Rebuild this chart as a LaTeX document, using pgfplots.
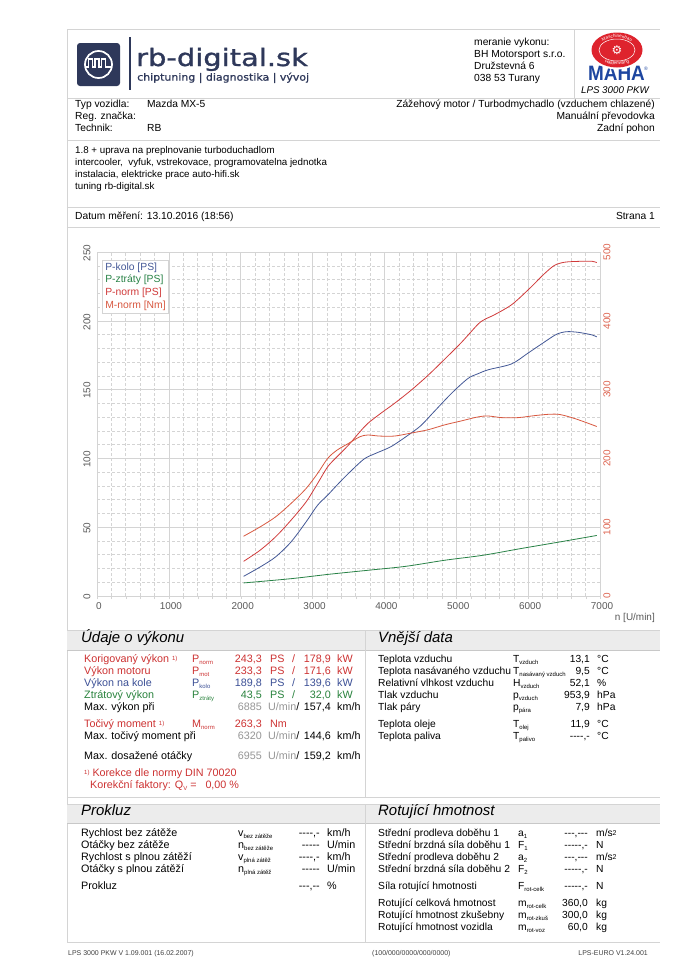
\documentclass[border=0pt]{standalone}
\usepackage{fontspec}
\setmainfont{Liberation Sans}
\newfontfamily\logofont{DejaVu Sans}
\newfontfamily\logofontb[FakeBold=1]{DejaVu Sans}
\usepackage{pgfplots}
\usepackage{pgfplotstable}
\pgfplotsset{compat=1.18}
\usetikzlibrary{decorations.text}

\definecolor{pkolo}{RGB}{68,88,150}
\definecolor{pztr}{RGB}{40,130,70}
\definecolor{pnorm}{RGB}{208,58,58}
\definecolor{mnorm}{RGB}{216,88,64}
\definecolor{rlab}{RGB}{222,100,80}
\definecolor{gridc}{RGB}{212,212,212}
\definecolor{frame}{RGB}{212,212,212}
\definecolor{band}{RGB}{236,236,236}
\definecolor{bandline}{RGB}{200,200,200}
\definecolor{navy}{RGB}{46,56,90}
\definecolor{txtred}{RGB}{205,50,50}
\definecolor{txtblue}{RGB}{60,80,150}
\definecolor{txtgreen}{RGB}{40,130,60}
\definecolor{txtgray}{RGB}{150,150,150}
\definecolor{tickgray}{RGB}{90,90,90}
\definecolor{mahared}{RGB}{222,35,45}
\definecolor{mahablue}{RGB}{30,70,160}

\newcommand\tf{\fontsize{10.8}{12}\selectfont}
\newcommand\rf{\fontsize{10.3}{12}\selectfont}
\newcommand\vf{\fontsize{10.3}{12}\selectfont}
\newcommand\sub[1]{\raisebox{-2.3bp}{\fontsize{6}{6}\selectfont #1}}
\newcommand\one{\raisebox{2bp}{\fontsize{6}{6}\selectfont 1)}}
\newcommand\cell[4][]{\node[anchor=mid west,#1] at (#2,#3) {#4};}
\newcommand\cellr[4][]{\node[anchor=mid east,#1] at (#2,#3) {#4};}

% P-kolo [PS]
\pgfplotstableread{
rpm P
2040 14.3
2270 21.1
2485 28.4
2700 39.3
2910 53.9
3070 66.0
3210 73.3
3340 80.6
3500 89.1
3715 99.5
3875 103.6
4090 108.5
4300 115.8
4500 123.5
4670 132.8
4930 147.1
5160 158.0
5300 161.5
5450 164.5
5770 168.7
6000 176.6
6230 184.7
6395 190.2
6535 192.1
6700 191.6
6885 189.8
6955 188.3
}\tabkolo

% P-ztraty [PS]
\pgfplotstableread{
rpm P
2040 9.5
2700 12.6
3230 15.8
3770 18.7
4300 21.6
4840 26.0
5370 29.6
5900 34.5
6440 39.3
6955 44.0
}\tabztr

% P-norm [PS]
\pgfplotstableread{
rpm P
2040 25.2
2270 33.3
2485 43.0
2700 55.1
2910 68.4
3070 81.8
3210 93.9
3340 101.2
3500 109.7
3660 119.4
3770 125.5
3950 132.8
4140 140.0
4370 149.5
4605 160.3
4840 172.2
5070 184.2
5300 197.4
5395 201.0
5535 204.5
5770 211.7
6000 222.5
6230 234.4
6370 240.4
6510 242.6
6700 243.2
6885 243.3
6955 242.3
}\tabnorm

% M-norm [Nm]
\pgfplotstableread{
rpm M
2040 86.9
2270 100.5
2485 115.0
2700 134.5
2910 156.3
3070 178.2
3210 200.0
3340 212.0
3500 221.8
3660 231.6
3770 234.0
3930 232.5
4140 232.5
4370 236.8
4605 241.6
4840 248.8
5070 254.5
5300 260.3
5440 261.7
5630 259.3
5860 259.3
6090 262.2
6280 264.1
6420 264.1
6560 260.8
6745 254.5
6955 246.4
}\tabmom

\begin{document}
\begin{tikzpicture}[x=1bp,y=-1bp]
\path[use as bounding box, fill=white] (0,0) rectangle (680,962);

% frame lines
\begin{scope}[frame, line width=0.6bp]
\draw (67,29) -- (660,29);
\draw (67,98) -- (660,98);
\draw (67,140) -- (660,140);
\draw (67,207) -- (660,207);
\draw (67,227) -- (660,227);
\draw (574,29) -- (574,98);
\draw (67,29) -- (67,942);
\end{scope}
% section bands
\fill[band] (67,630) rectangle (660,650);
\fill[band] (67,804) rectangle (660,823);
\draw[frame, line width=0.6bp] (67,630) -- (660,630) (67,797) -- (660,797) (67,804) -- (660,804) (67,942) -- (660,942);
\draw[bandline, line width=0.6bp] (67,650) -- (660,650) (67,823) -- (660,823);
\draw[frame, line width=0.6bp] (365,630) -- (365,797) (365,804) -- (365,942);

% rb-digital logo
\fill[navy, rounded corners=3bp] (77,43) rectangle (120,86);
\draw[white, line width=1.7bp] (98.5,64.5) circle (13.5);
\draw[white, line width=1.4bp] (86,67) -- (88.5,67) -- (88.5,59) -- (92.5,59) -- (92.5,67) -- (95,67) -- (95,59) -- (99,59) -- (99,67) -- (101.5,67) -- (101.5,59) -- (105.5,59) -- (105.5,67) -- (111,67);
\fill[navy] (128.6,37) rectangle (130.6,90);
\node[anchor=base west, inner sep=0, text=navy] at (136,66) {\scalebox{1.21}[1]{\logofontb\fontsize{24}{24}\selectfont rb-digital.sk}};
\node[anchor=mid west, inner sep=0, text=navy] at (137,78) {\scalebox{1.1}[1]{\logofontb\fontsize{10}{10}\selectfont chiptuning | diagnostika | vývoj}};

% measuring company
\begin{scope}[every node/.style={inner sep=0pt, font=\vf, anchor=mid west}]
\node at (474,43) {meranie vykonu:};
\node at (474,55) {BH Motorsport s.r.o.};
\node at (474,67) {Družstevná 6};
\node at (474,79) {038 53 Turany};
\end{scope}

% MAHA logo
\node[text=mahablue, inner sep=0, font=\fontsize{19}{19}\selectfont\bfseries] at (616.5,73.5) {\scalebox{1}[1.1]{MAHA}};
\fill[white] (617,50) ellipse (27.5 and 19.5);
\fill[mahared] (617,50) ellipse (25.5 and 17.5);
\draw[white, line width=0.5bp] (617,50) ellipse (18 and 11);
\node[text=white, inner sep=0, font=\logofont\fontsize{12}{12}\selectfont] at (617,50) {⚙};
\path[decorate, decoration={text along path, text align=center, text={|\fontsize{4.6}{4.6}\selectfont\color{white}|Maschinenbau}}] (596,52) .. controls (597,33) and (637,33) .. (638,52);
\path[decorate, decoration={text along path, text align=center, text={|\fontsize{4.6}{4.6}\selectfont\color{white}|Haldenwang}}] (599,55) .. controls (601,68) and (633,68) .. (635,55);
\node[text=mahablue, inner sep=0, font=\fontsize{5}{5}\selectfont] at (646,69) {®};
\node[inner sep=0, font=\fontsize{9.8}{10}\selectfont\itshape] at (615,90) {LPS 3000 PKW};

% vehicle data
\begin{scope}[every node/.style={inner sep=0pt, font=\vf}]
\cell{75}{105}{Typ vozidla:}
\cell{147}{105}{Mazda MX-5}
\cell{75}{117}{Reg. značka:}
\cell{75}{129}{Technik:}
\cell{147}{129}{RB}
\cellr{655}{105}{Zážehový motor / Turbodmychadlo (vzduchem chlazené)}
\cellr{655}{117}{Manuální převodovka}
\cellr{655}{129}{Zadní pohon}
\end{scope}
\begin{scope}[every node/.style={inner sep=0pt, font=\fontsize{9.8}{12}\selectfont}]
\cell{75}{151}{1.8 + uprava na preplnovanie turboduchadlom}
\cell{75}{163}{intercooler,\ \ vyfuk, vstrekovace, programovatelna jednotka}
\cell{75}{175}{instalacia, elektricke prace auto-hifi.sk}
\cell{75}{187}{tuning rb-digital.sk}
\end{scope}
\begin{scope}[every node/.style={inner sep=0pt, font=\vf}]
\cell{75}{217}{Datum měření: 13.10.2016 (18:56)}
\cellr{655}{217}{Strana 1}
\end{scope}

% chart
\begin{axis}[
  at={(97bp,-596bp)}, anchor=south west,
  width=503bp, height=344bp, scale only axis,
  xmin=0, xmax=7000, ymin=0, ymax=250,
  xtick={0,1000,...,7000}, ytick={0,50,...,250},
  minor x tick num=4, minor y tick num=4,
  grid=both,
  major grid style={gridc, line width=0.6bp},
  minor grid style={gridc, line width=0.5bp, dash pattern=on 3bp off 2bp},
  axis line style={gridc, line width=0.6bp},
  tick align=outside, major tick length=3bp, minor tick length=3bp,
  tick style={gridc}, ytick style={draw=none},
  xtick pos=left, ytick pos=left,
  /pgf/number format/1000 sep={},
  /pgf/number format/assume math mode=true,
  xticklabel style={font=\fontsize{10}{10}\selectfont, text=tickgray, xshift=2bp},
  yticklabel style={font=\fontsize{10}{10}\selectfont, text=tickgray, rotate=90, anchor=south, xshift=-1bp},
]
\addplot[pztr, line width=0.8bp, smooth] table[x=rpm, y=P] {\tabztr};
\addplot[pkolo, line width=0.8bp, smooth] table[x=rpm, y=P] {\tabkolo};
\addplot[pnorm, line width=0.8bp, smooth] table[x=rpm, y=P] {\tabnorm};
\end{axis}
\begin{axis}[
  at={(97bp,-596bp)}, anchor=south west,
  width=503bp, height=344bp, scale only axis,
  xmin=0, xmax=7000, ymin=0, ymax=500,
  hide x axis, axis y line*=right,
  ytick={0,100,...,500}, ytick style={draw=none},
  axis line style={gridc, line width=0.6bp},
  /pgf/number format/assume math mode=true,
  yticklabel style={font=\fontsize{10}{10}\selectfont, text=rlab, rotate=90, anchor=north},
]
\addplot[mnorm, line width=0.8bp, smooth] table[x=rpm, y=M] {\tabmom};
\end{axis}
\node[anchor=mid east, inner sep=0, font=\fontsize{10}{10}\selectfont, text=tickgray] at (655,618) {n [U/min]};
\node[anchor=north west, draw=gridc, fill=white, line width=0.5bp, inner xsep=3bp, inner ysep=2.5bp, align=left, font=\fontsize{10.4}{12.7}\selectfont] at (102,260)
  {\textcolor{pkolo}{P-kolo [PS]}\\\textcolor{pztr}{P-ztráty [PS]}\\\textcolor{pnorm}{P-norm [PS]}\\\textcolor{mnorm}{M-norm [Nm]}};

% section titles
\node[anchor=mid west, inner sep=0, font=\fontsize{15}{15}\selectfont\itshape] at (81,640) {Údaje o výkonu};
\node[anchor=mid west, inner sep=0, font=\fontsize{15}{15}\selectfont\itshape] at (378,640) {Vnější data};
\node[anchor=mid west, inner sep=0, font=\fontsize{15}{15}\selectfont\itshape] at (81,813) {Prokluz};
\node[anchor=mid west, inner sep=0, font=\fontsize{15}{15}\selectfont\itshape] at (378,813) {Rotující hmotnost};

\begin{scope}[every node/.style={inner sep=0pt, font=\tf}]
% Udaje o vykonu
\cell[text=txtred]{84}{660}{Korigovaný výkon \one}
\cell[text=txtred]{192}{660}{P\sub{norm}}
\cellr[text=txtred]{262}{660}{243,3}
\cell[text=txtred]{270}{660}{PS}
\cell[text=txtred]{292}{660}{/}
\cellr[text=txtred]{331}{660}{178,9}
\cell[text=txtred]{337}{660}{kW}
\cell[text=txtred]{84}{672}{Výkon motoru}
\cell[text=txtred]{192}{672}{P\sub{mot}}
\cellr[text=txtred]{262}{672}{233,3}
\cell[text=txtred]{270}{672}{PS}
\cell[text=txtred]{292}{672}{/}
\cellr[text=txtred]{331}{672}{171,6}
\cell[text=txtred]{337}{672}{kW}
\cell[text=txtblue]{84}{684}{Výkon na kole}
\cell[text=txtblue]{192}{684}{P\sub{kolo}}
\cellr[text=txtblue]{262}{684}{189,8}
\cell[text=txtblue]{270}{684}{PS}
\cell[text=txtblue]{292}{684}{/}
\cellr[text=txtblue]{331}{684}{139,6}
\cell[text=txtblue]{337}{684}{kW}
\cell[text=txtgreen]{84}{696}{Ztrátový výkon}
\cell[text=txtgreen]{192}{696}{P\sub{ztráty}}
\cellr[text=txtgreen]{262}{696}{43,5}
\cell[text=txtgreen]{270}{696}{PS}
\cell[text=txtgreen]{292}{696}{/}
\cellr[text=txtgreen]{331}{696}{32,0}
\cell[text=txtgreen]{337}{696}{kW}
\cell{84}{708}{Max. výkon při}
\cellr[text=txtgray]{262}{708}{6885}
\cell{268}{708}{\textcolor{txtgray}{U/min}/}
\cellr{331}{708}{157,4}
\cell{337}{708}{km/h}
\cell[text=txtred]{84}{725}{Točivý moment \one}
\cell[text=txtred]{192}{725}{M\sub{norm}}
\cellr[text=txtred]{262}{725}{263,3}
\cell[text=txtred]{270}{725}{Nm}
\cell{84}{737}{Max. točivý moment při}
\cellr[text=txtgray]{262}{737}{6320}
\cell{268}{737}{\textcolor{txtgray}{U/min}/}
\cellr{331}{737}{144,6}
\cell{337}{737}{km/h}
\cell{84}{757}{Max. dosažené otáčky}
\cellr[text=txtgray]{262}{757}{6955}
\cell{268}{757}{\textcolor{txtgray}{U/min}/}
\cellr{331}{757}{159,2}
\cell{337}{757}{km/h}
\cell[text=txtred]{84}{774}{\one\ Korekce dle normy DIN 70020}
\cell[text=txtred]{90}{786}{Korekční faktory: Q\sub{V} =\ \ \ 0,00 \%}
\end{scope}
\begin{scope}[every node/.style={inner sep=0pt, font=\rf}]
% Vnejsi data
\cell{378}{660}{Teplota vzduchu}
\cell{513}{660}{T\sub{vzduch}}
\cellr{590}{660}{13,1}
\cell{597}{660}{°C}
\cell{378}{672}{Teplota nasávaného vzduchu}
\cell{513}{672}{T\sub{nasávaný vzduch}}
\cellr{590}{672}{9,5}
\cell{597}{672}{°C}
\cell{378}{684}{Relativní vlhkost vzduchu}
\cell{513}{684}{H\sub{vzduch}}
\cellr{590}{684}{52,1}
\cell{597}{684}{\%}
\cell{378}{696}{Tlak vzduchu}
\cell{513}{696}{p\sub{vzduch}}
\cellr{590}{696}{953,9}
\cell{597}{696}{hPa}
\cell{378}{708}{Tlak páry}
\cell{513}{708}{p\sub{pára}}
\cellr{590}{708}{7,9}
\cell{597}{708}{hPa}
\cell{378}{725}{Teplota oleje}
\cell{513}{725}{T\sub{olej}}
\cellr{590}{725}{11,9}
\cell{597}{725}{°C}
\cell{378}{737}{Teplota paliva}
\cell{513}{737}{T\sub{palivo}}
\cellr{590}{737}{-{}-{}-{}-,-}
\cell{597}{737}{°C}
\end{scope}
\begin{scope}[every node/.style={inner sep=0pt, font=\tf}]
% Prokluz
\cell{81}{834}{Rychlost bez zátěže}
\cell{238}{834}{v\sub{bez zátěže}}
\cellr{320}{834}{-{}-{}-{}-,-}
\cell{327}{834}{km/h}
\cell{81}{846}{Otáčky bez zátěže}
\cell{238}{846}{n\sub{bez zátěže}}
\cellr{320}{846}{-{}-{}-{}-{}-}
\cell{327}{846}{U/min}
\cell{81}{858}{Rychlost s plnou zátěží}
\cell{238}{858}{v\sub{plná zátěž}}
\cellr{320}{858}{-{}-{}-{}-,-}
\cell{327}{858}{km/h}
\cell{81}{870}{Otáčky s plnou zátěží}
\cell{238}{870}{n\sub{plná zátěž}}
\cellr{320}{870}{-{}-{}-{}-{}-}
\cell{327}{870}{U/min}
\cell{81}{887}{Prokluz}
\cellr{320}{887}{-{}-{}-,-{}-}
\cell{327}{887}{\%}
\end{scope}
\begin{scope}[every node/.style={inner sep=0pt, font=\rf}]
% Rotujici hmotnost
\cell{378}{834}{Střední prodleva doběhu 1}
\cell{518}{834}{a\sub{1}}
\cellr{588}{834}{-{}-{}-,-{}-{}-}
\cell{596}{834}{m/s\raisebox{0.8bp}{\fontsize{7}{7}\selectfont 2}}
\cell{378}{846}{Střední brzdná síla doběhu 1}
\cell{518}{846}{F\sub{1}}
\cellr{588}{846}{-{}-{}-{}-{}-,-}
\cell{596}{846}{N}
\cell{378}{858}{Střední prodleva doběhu 2}
\cell{518}{858}{a\sub{2}}
\cellr{588}{858}{-{}-{}-,-{}-{}-}
\cell{596}{858}{m/s\raisebox{0.8bp}{\fontsize{7}{7}\selectfont 2}}
\cell{378}{870}{Střední brzdná síla doběhu 2}
\cell{518}{870}{F\sub{2}}
\cellr{588}{870}{-{}-{}-{}-{}-,-}
\cell{596}{870}{N}
\cell{378}{887}{Síla rotující hmotnosti}
\cell{518}{887}{F\sub{rot-celk}}
\cellr{588}{887}{-{}-{}-{}-{}-,-}
\cell{596}{887}{N}
\cell{378}{904}{Rotující celková hmotnost}
\cell{518}{904}{m\sub{rot-celk}}
\cellr{588}{904}{360,0}
\cell{596}{904}{kg}
\cell{378}{916}{Rotující hmotnost zkušebny}
\cell{518}{916}{m\sub{rot-zkuš}}
\cellr{588}{916}{300,0}
\cell{596}{916}{kg}
\cell{378}{928}{Rotující hmotnost vozidla}
\cell{518}{928}{m\sub{rot-voz}}
\cellr{588}{928}{60,0}
\cell{596}{928}{kg}
\end{scope}

% footer
\begin{scope}[every node/.style={inner sep=0pt, font=\fontsize{7}{8}\selectfont, text=black!75}]
\cell{68}{953}{LPS 3000 PKW V 1.09.001 (16.02.2007)}
\cell{372}{953}{(100/000/0000/000/0000)}
\cellr{648}{953}{LPS-EURO V1.24.001}
\end{scope}
\end{tikzpicture}
\end{document}
